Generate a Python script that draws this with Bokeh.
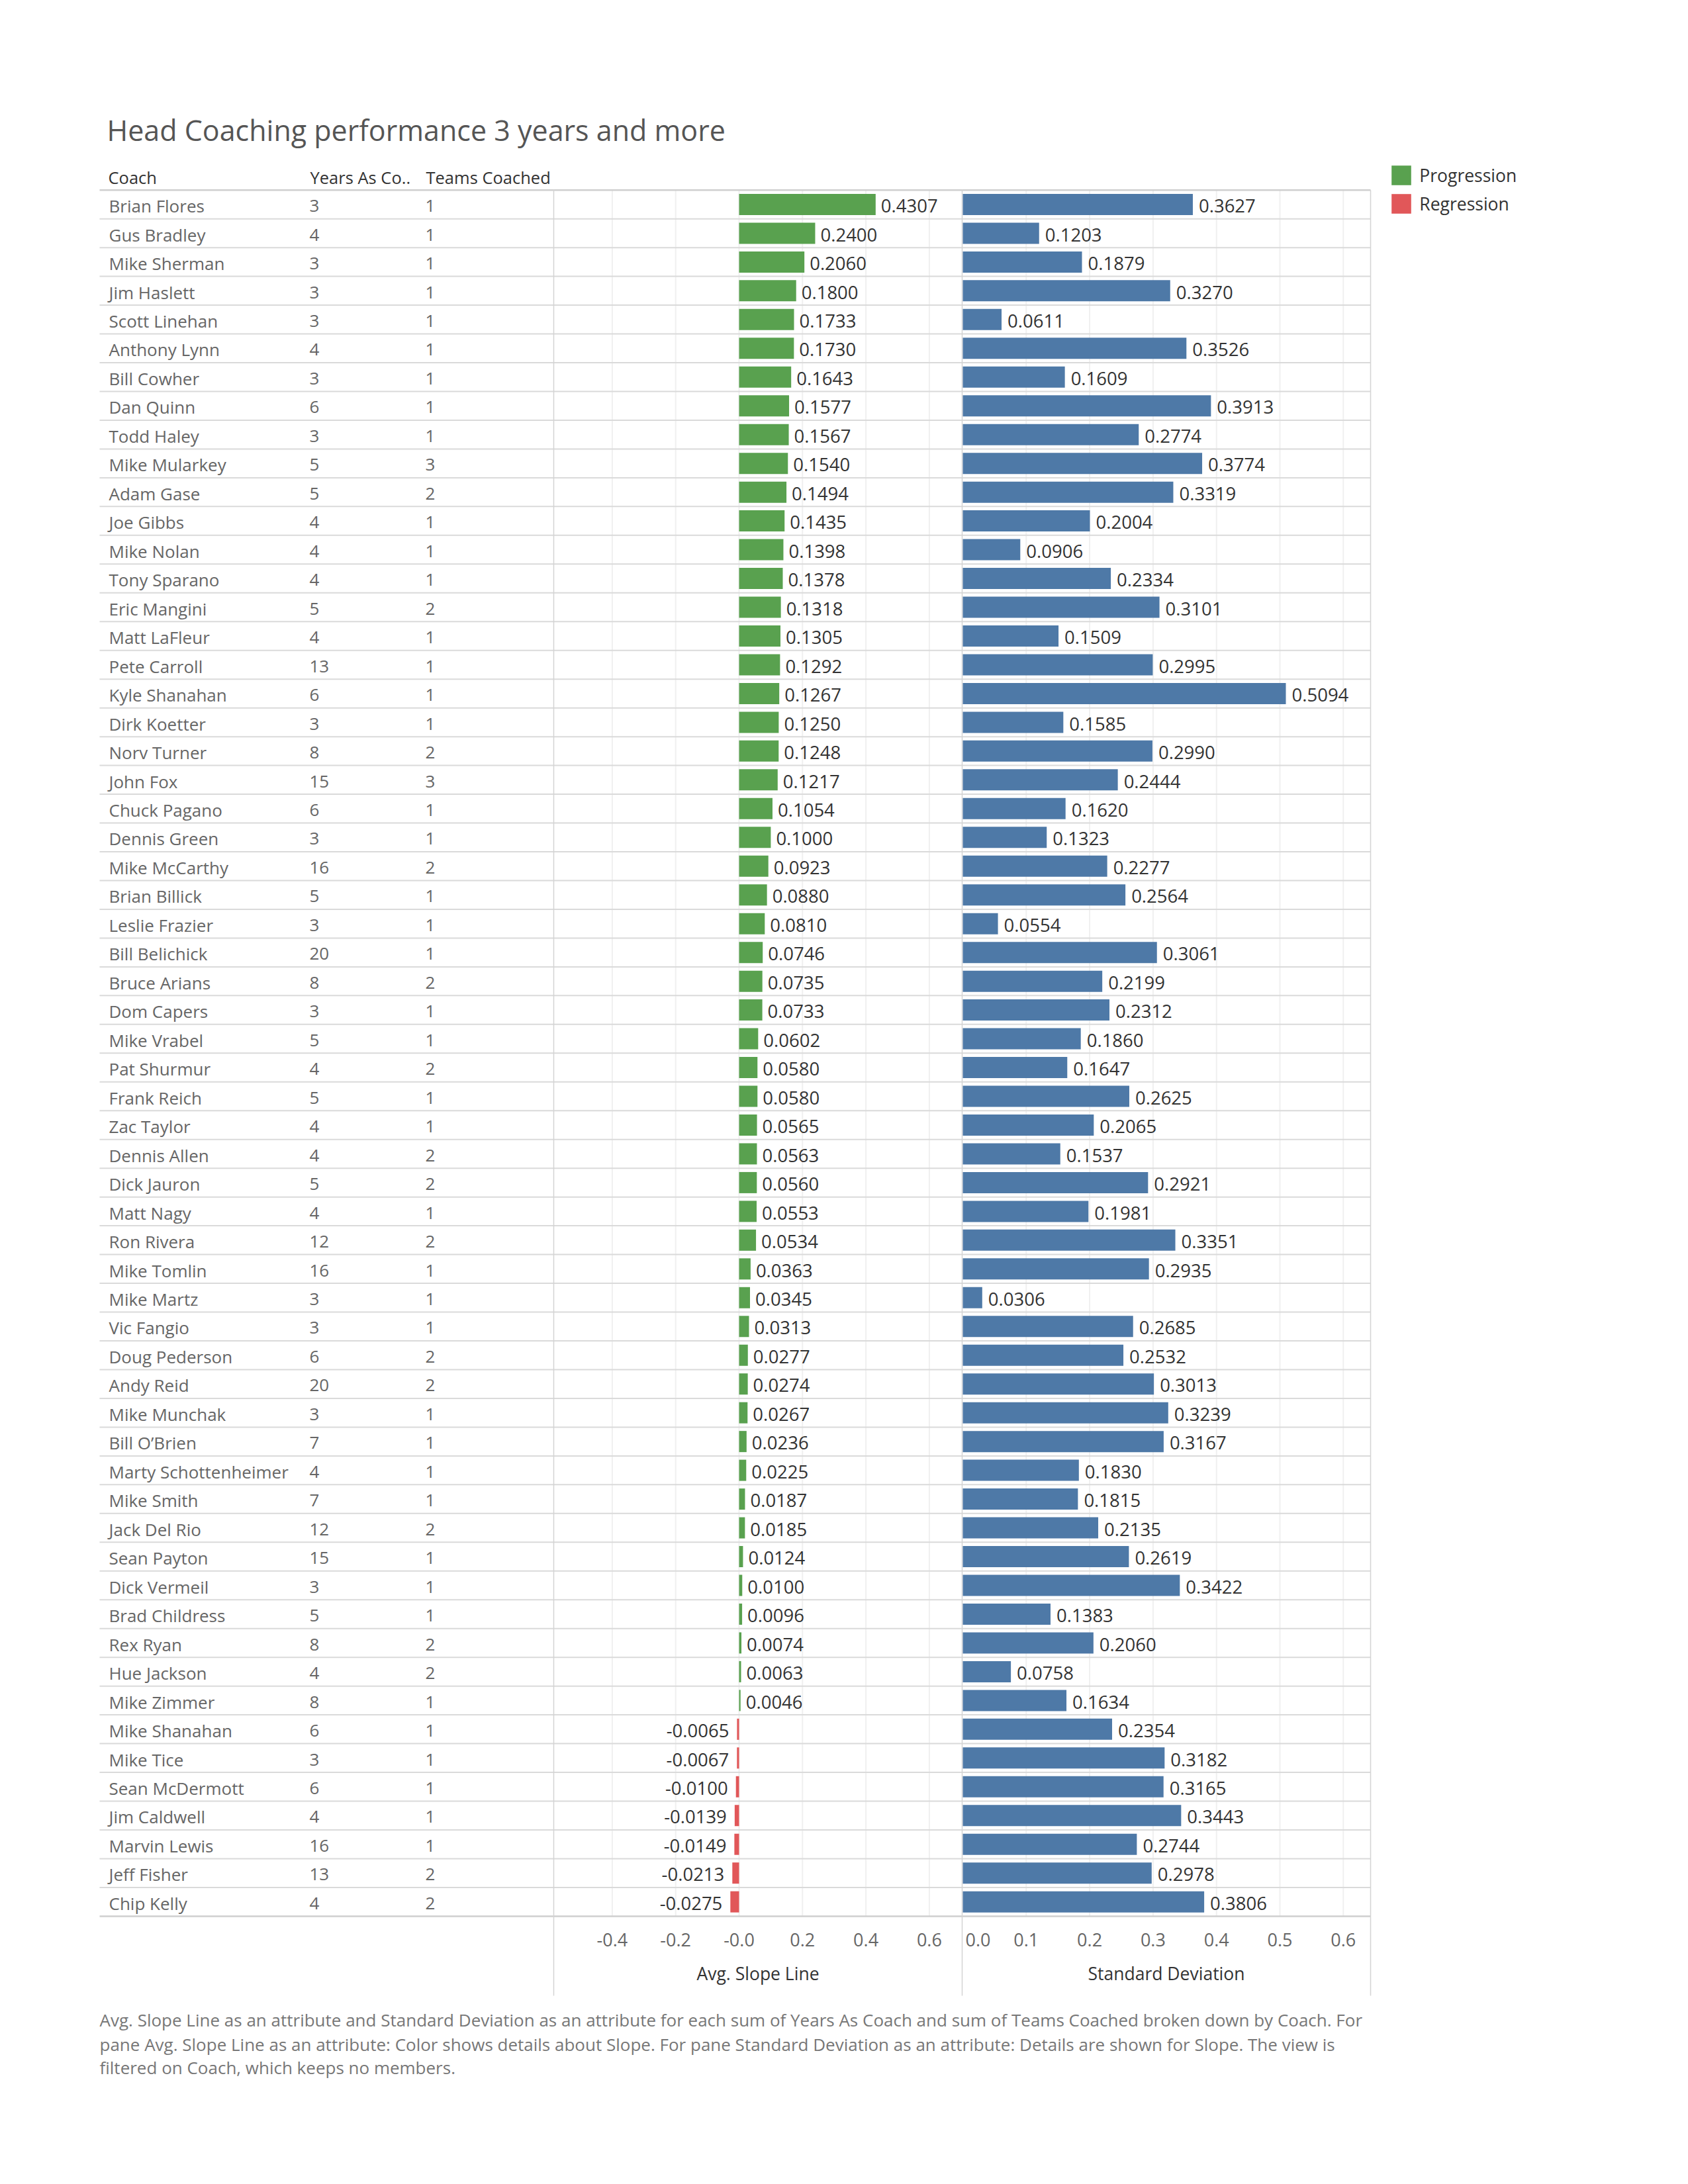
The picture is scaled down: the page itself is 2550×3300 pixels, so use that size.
from bokeh.plotting import figure
from bokeh.models import Range1d, Legend, LegendItem, ColumnDataSource
from bokeh.core.properties import value
from bokeh.embed import file_html
from bokeh.resources import INLINE

# ---------------- data ----------------
coaches = [
    "Brian Flores", "Gus Bradley", "Mike Sherman", "Jim Haslett", "Scott Linehan",
    "Anthony Lynn", "Bill Cowher", "Dan Quinn", "Todd Haley", "Mike Mularkey",
    "Adam Gase", "Joe Gibbs", "Mike Nolan", "Tony Sparano", "Eric Mangini",
    "Matt LaFleur", "Pete Carroll", "Kyle Shanahan", "Dirk Koetter", "Norv Turner",
    "John Fox", "Chuck Pagano", "Dennis Green", "Mike McCarthy", "Brian Billick",
    "Leslie Frazier", "Bill Belichick", "Bruce Arians", "Dom Capers", "Mike Vrabel",
    "Pat Shurmur", "Frank Reich", "Zac Taylor", "Dennis Allen", "Dick Jauron",
    "Matt Nagy", "Ron Rivera", "Mike Tomlin", "Mike Martz", "Vic Fangio",
    "Doug Pederson", "Andy Reid", "Mike Munchak", "Bill O\u2019Brien", "Marty Schottenheimer",
    "Mike Smith", "Jack Del Rio", "Sean Payton", "Dick Vermeil", "Brad Childress",
    "Rex Ryan", "Hue Jackson", "Mike Zimmer", "Mike Shanahan", "Mike Tice",
    "Sean McDermott", "Jim Caldwell", "Marvin Lewis", "Jeff Fisher", "Chip Kelly",
]
years_as_coach = [
    3, 4, 3, 3, 3, 4, 3, 6, 3, 5,
    5, 4, 4, 4, 5, 4, 13, 6, 3, 8,
    15, 6, 3, 16, 5, 3, 20, 8, 3, 5,
    4, 5, 4, 4, 5, 4, 12, 16, 3, 3,
    6, 20, 3, 7, 4, 7, 12, 15, 3, 5,
    8, 4, 8, 6, 3, 6, 4, 16, 13, 4,
]
teams_coached = [
    1, 1, 1, 1, 1, 1, 1, 1, 1, 3,
    2, 1, 1, 1, 2, 1, 1, 1, 1, 2,
    3, 1, 1, 2, 1, 1, 1, 2, 1, 1,
    2, 1, 1, 2, 2, 1, 2, 1, 1, 1,
    2, 2, 1, 1, 1, 1, 2, 1, 1, 1,
    2, 2, 1, 1, 1, 1, 1, 1, 2, 2,
]
avg_slope = [
    0.4307, 0.2400, 0.2060, 0.1800, 0.1733, 0.1730, 0.1643, 0.1577, 0.1567, 0.1540,
    0.1494, 0.1435, 0.1398, 0.1378, 0.1318, 0.1305, 0.1292, 0.1267, 0.1250, 0.1248,
    0.1217, 0.1054, 0.1000, 0.0923, 0.0880, 0.0810, 0.0746, 0.0735, 0.0733, 0.0602,
    0.0580, 0.0580, 0.0565, 0.0563, 0.0560, 0.0553, 0.0534, 0.0363, 0.0345, 0.0313,
    0.0277, 0.0274, 0.0267, 0.0236, 0.0225, 0.0187, 0.0185, 0.0124, 0.0100, 0.0096,
    0.0074, 0.0063, 0.0046, -0.0065, -0.0067, -0.0100, -0.0139, -0.0149, -0.0213, -0.0275,
]
std_dev = [
    0.3627, 0.1203, 0.1879, 0.3270, 0.0611, 0.3526, 0.1609, 0.3913, 0.2774, 0.3774,
    0.3319, 0.2004, 0.0906, 0.2334, 0.3101, 0.1509, 0.2995, 0.5094, 0.1585, 0.2990,
    0.2444, 0.1620, 0.1323, 0.2277, 0.2564, 0.0554, 0.3061, 0.2199, 0.2312, 0.1860,
    0.1647, 0.2625, 0.2065, 0.1537, 0.2921, 0.1981, 0.3351, 0.2935, 0.0306, 0.2685,
    0.2532, 0.3013, 0.3239, 0.3167, 0.1830, 0.1815, 0.2135, 0.2619, 0.3422, 0.1383,
    0.2060, 0.0758, 0.1634, 0.2354, 0.3182, 0.3165, 0.3443, 0.2744, 0.2978, 0.3806,
]

slope_ticks = [-0.4, -0.2, 0.0, 0.2, 0.4, 0.6]
slope_tick_labels = ["-0.4", "-0.2", "-0.0", "0.2", "0.4", "0.6"]
sd_ticks = [0.0, 0.1, 0.2, 0.3, 0.4, 0.5, 0.6]
sd_tick_labels = ["0.0", "0.1", "0.2", "0.3", "0.4", "0.5", "0.6"]

title_text = "Head Coaching performance 3 years and more"
header_labels = ["Coach", "Years As Co..", "Teams Coached"]
slope_axis_title = "Avg. Slope Line"
sd_axis_title = "Standard Deviation"
legend_labels = ["Progression", "Regression"]
footnote_lines = [
    "Avg. Slope Line as an attribute and Standard Deviation as an attribute for each sum of Years As Coach and sum of Teams Coached broken down by Coach.  For",
    "pane Avg. Slope Line as an attribute:  Color shows details about Slope.  For pane Standard Deviation as an attribute:  Details are shown for Slope. The view is",
    "filtered on Coach, which keeps no members.",
]

# ---------------- geometry / style (page pixels) ----------------
W, H = 2530, 3280
ROW_TOP = 286.7
PITCH = 43.47
ROWC0 = ROW_TOP + PITCH / 2
TABLE_L, SLOPE_L, MID, SD_R = 150, 836, 1453, 2070
SLOPE_ZERO, SLOPE_PX = 1116, 479.0
SD_ZERO, SD_PX = 1454, 958.0
BAR_H = 32 / PITCH
MID_OFF = 2.2          # text centre offset below row centre, px

GREEN, RED, BLUE = "#59a14f", "#e15759", "#4e79a7"
FONT = value("Open Sans")

p = figure(width=W, height=H, output_backend="svg", toolbar_location=None,
           x_range=Range1d(0, W), y_range=Range1d(H, 0),
           x_axis_location=None, y_axis_location=None,
           min_border=0, min_border_left=0, min_border_right=0,
           min_border_top=0, min_border_bottom=0,
           outline_line_color=None, background_fill_color="white",
           border_fill_color="white")
p.grid.visible = False

p.extra_x_ranges = {
    "slope": Range1d(-SLOPE_ZERO / SLOPE_PX, (W - SLOPE_ZERO) / SLOPE_PX),
    "sd": Range1d(-SD_ZERO / SD_PX, (W - SD_ZERO) / SD_PX),
}
p.extra_y_ranges = {"rows": Range1d((H - ROWC0) / PITCH, -ROWC0 / PITCH)}

n = len(coaches)
idx = list(range(n))

# vertical gridlines inside panes
p.segment(x0=slope_ticks, x1=slope_ticks, y0=-0.5, y1=n - 0.5,
          x_range_name="slope", y_range_name="rows", line_color="#f0f0f0", line_width=2)
p.segment(x0=sd_ticks[1:], x1=sd_ticks[1:], y0=-0.5, y1=n - 0.5,
          x_range_name="sd", y_range_name="rows", line_color="#f0f0f0", line_width=2)

# row separators
seps = [i - 0.5 for i in range(n + 1)]
p.segment(x0=TABLE_L, x1=SD_R, y0=seps[1:-1], y1=seps[1:-1], y_range_name="rows",
          line_color="#dadada", line_width=2)
p.segment(x0=TABLE_L, x1=SD_R, y0=[seps[0], seps[-1]], y1=[seps[0], seps[-1]],
          y_range_name="rows", line_color="#cfcfcf", line_width=2.5)

# pane borders
p.segment(x0=[SLOPE_L, MID, SD_R], x1=[SLOPE_L, MID, SD_R], y0=ROW_TOP, y1=3015,
          line_color="#d4d4d4", line_width=1.5)

# bars
pos_src = ColumnDataSource(dict(
    y=[i for i in idx if avg_slope[i] >= 0],
    v=[avg_slope[i] for i in idx if avg_slope[i] >= 0],
    t=[f"{avg_slope[i]:.4f}" for i in idx if avg_slope[i] >= 0]))
neg_src = ColumnDataSource(dict(
    y=[i for i in idx if avg_slope[i] < 0],
    v=[avg_slope[i] for i in idx if avg_slope[i] < 0],
    t=[f"{avg_slope[i]:.4f}" for i in idx if avg_slope[i] < 0]))
sd_src = ColumnDataSource(dict(y=idx, v=std_dev, t=[f"{v:.4f}" for v in std_dev]))

r_prog = p.hbar(y="y", left=0, right="v", height=BAR_H, source=pos_src,
                fill_color=GREEN, line_color=None,
                x_range_name="slope", y_range_name="rows")
r_reg = p.hbar(y="y", left=0, right="v", height=BAR_H, source=neg_src,
               fill_color=RED, line_color=None,
               x_range_name="slope", y_range_name="rows")
p.hbar(y="y", left=0, right="v", height=BAR_H, source=sd_src,
       fill_color=BLUE, line_color=None, x_range_name="sd", y_range_name="rows")

# bar value labels
lbl = dict(text_font=FONT, text_font_size="27.5px", text_color="#333333",
           text_baseline="middle", y_offset=MID_OFF, y_range_name="rows")
p.text(x="v", y="y", text="t", source=pos_src, x_offset=8, text_align="left",
       x_range_name="slope", **lbl)
p.text(x="v", y="y", text="t", source=neg_src, x_offset=-12, text_align="right",
       x_range_name="slope", **lbl)
p.text(x="v", y="y", text="t", source=sd_src, x_offset=9, text_align="left",
       x_range_name="sd", **lbl)

# table columns
row_txt = dict(text_font=FONT, text_font_size="26px", text_color="#666666",
               text_baseline="middle", y_offset=MID_OFF, y_range_name="rows")
p.text(x=164, y=idx, text=coaches, **row_txt)
p.text(x=467, y=idx, text=[str(v) for v in years_as_coach], **row_txt)
p.text(x=642, y=idx, text=[str(v) for v in teams_coached], **row_txt)

# header
p.text(x=[163, 468, 643], y=267.5, text=header_labels, text_font=FONT,
       text_font_size="25.5px", text_color="#333333", text_baseline="middle")

# title
p.text(x=[161], y=[195.5], text=[title_text], text_font=FONT, text_font_size="43px",
       text_color="#555555", text_baseline="middle")

# tick labels
tick = dict(text_font=FONT, text_font_size="27px", text_color="#666666",
            text_baseline="middle")
p.text(x=slope_ticks, y=2930, text=slope_tick_labels, text_align="center",
       x_range_name="slope", **tick)
p.text(x=sd_ticks[:1], y=2930, text=sd_tick_labels[:1], text_align="left", x_offset=4,
       x_range_name="sd", **tick)
p.text(x=sd_ticks[1:], y=2930, text=sd_tick_labels[1:], text_align="center",
       x_range_name="sd", **tick)

# axis titles
p.text(x=[(SLOPE_L + MID) / 2, (MID + SD_R) / 2], y=2981.5,
       text=[slope_axis_title, sd_axis_title], text_font=FONT, text_font_size="26.5px",
       text_color="#333333", text_align="center", text_baseline="middle")

# footnote
p.text(x=150, y=[3051.5, 3088, 3123.5], text=footnote_lines, text_font=FONT,
       text_font_size="26px", text_color="#777777", text_baseline="middle")

# legend (squares 30px at x 2102..2132, y 250..280 and 293..323)
legend = Legend(items=[LegendItem(label=legend_labels[0], renderers=[r_prog]),
                       LegendItem(label=legend_labels[1], renderers=[r_reg])],
                location=(2098.3, H - 326.3),
                glyph_width=37, glyph_height=37, label_height=37, spacing=6,
                padding=0, margin=0, label_standoff=9,
                border_line_color=None, background_fill_alpha=0,
                label_text_font="Open Sans", label_text_font_size="26.5px",
                label_text_color="#333333")
p.add_layout(legend)

open("out.html", "w").write(file_html(p, INLINE))
